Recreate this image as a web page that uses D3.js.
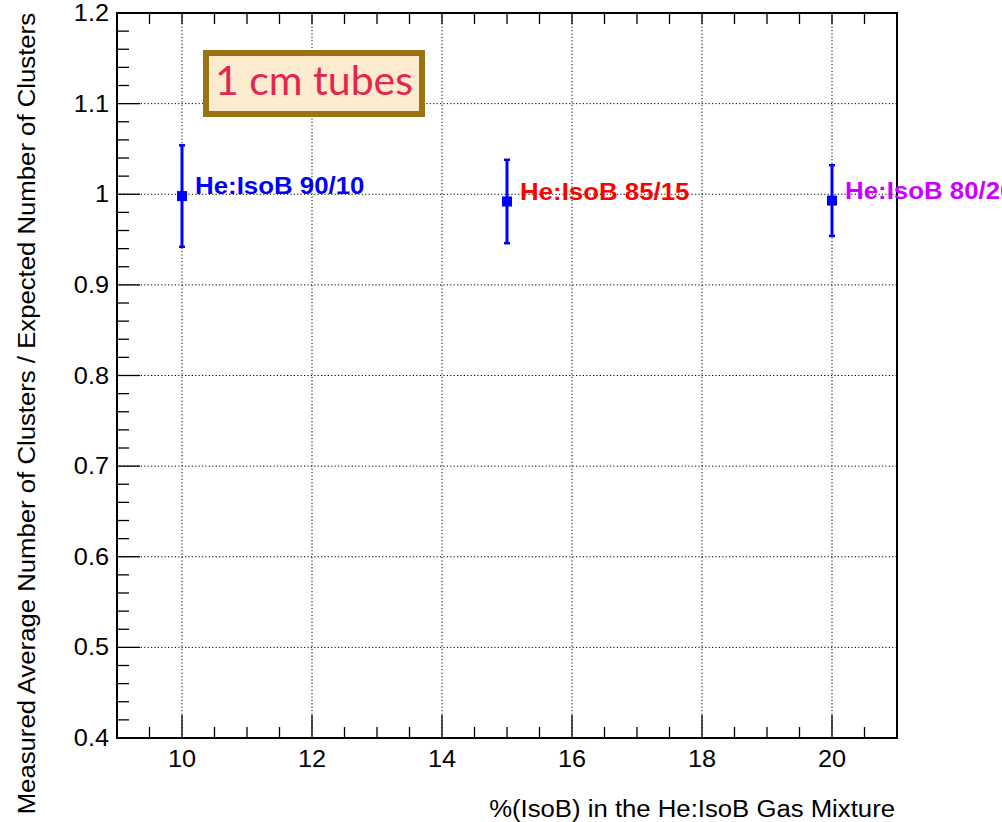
<!DOCTYPE html>
<html>
<head>
<meta charset="utf-8">
<script src="https://cdn.jsdelivr.net/npm/d3@7"></script>
<style>
  body { margin: 0; overflow: hidden; background: #fff; }
  text { font-family: "Liberation Sans", Arial, Helvetica, sans-serif; }
</style>
</head>
<body>
<div id="chart"></div>
<script>
// gas mixtures: %IsoB, measured/expected ratio and error
var isoB = [10, 15, 20];
var ratio = [0.998, 0.992, 0.993];
var ratioErr = [0.056, 0.046, 0.039];
var labels = ["He:IsoB 90/10", "He:IsoB 85/15", "He:IsoB 80/20"];
var labelColors = ["#0000ff", "#ff0000", "#cc00ff"];
var xTicks = [10, 12, 14, 16, 18, 20];
var yTicks = [0.4, 0.5, 0.6, 0.7, 0.8, 0.9, 1, 1.1, 1.2];

var width = 1002, height = 822;
var margin = {top: 13, right: 105, bottom: 84, left: 117};
var w = width - margin.left - margin.right,
    h = height - margin.top - margin.bottom;
var stretch = 1.1; // ROOT text looks a bit wider than Liberation Sans

var svg = d3.select("#chart").append("svg")
  .attr("width", width)
  .attr("height", height);
var g = svg.append("g")
  .attr("transform", "translate(" + margin.left + "," + margin.top + ")");

var x = d3.scaleLinear().domain([9, 21]).range([0, w]);
var y = d3.scaleLinear().domain([0.4, 1.2]).range([h, 0]);

function at(px, py, s) {
  return "translate(" + px + "," + py + ") scale(" + (s || stretch) + ",1)";
}

// grid
g.selectAll(".gx").data(xTicks).enter().append("line")
  .attr("x1", function(d) { return x(d); })
  .attr("x2", function(d) { return x(d); })
  .attr("y1", 0).attr("y2", h)
  .attr("stroke", "#000").attr("stroke-width", 1)
  .attr("stroke-dasharray", "1.2,2.2");
g.selectAll(".gy").data(yTicks.slice(1, -1)).enter().append("line")
  .attr("y1", function(d) { return y(d); })
  .attr("y2", function(d) { return y(d); })
  .attr("x1", 0).attr("x2", w)
  .attr("stroke", "#000").attr("stroke-width", 1)
  .attr("stroke-dasharray", "1.2,2.2");

// ticks, ROOT style (inside)
var xMinor = d3.range(9.5, 21, 0.5);
var yMinor = d3.range(0.42, 1.2, 0.02);
g.selectAll(".tb").data(xMinor).enter().append("line")
  .attr("x1", function(d) { return x(d); })
  .attr("x2", function(d) { return x(d); })
  .attr("y1", h)
  .attr("y2", function(d) { return h - (Math.abs(d % 2) < 1e-6 ? 23 : 11); })
  .attr("stroke", "#000").attr("stroke-width", 1.3);
g.selectAll(".tt").data(xMinor).enter().append("line")
  .attr("x1", function(d) { return x(d); })
  .attr("x2", function(d) { return x(d); })
  .attr("y1", 0).attr("y2", 11)
  .attr("stroke", "#000").attr("stroke-width", 1.3);
g.selectAll(".tl").data(yMinor).enter().append("line")
  .attr("y1", function(d) { return y(d); })
  .attr("y2", function(d) { return y(d); })
  .attr("x1", 0)
  .attr("x2", function(d) { return Math.abs(Math.round(d * 10) - d * 10) < 1e-6 ? 23 : 12; })
  .attr("stroke", "#000").attr("stroke-width", 1.3);

// frame
g.append("rect")
  .attr("width", w).attr("height", h)
  .attr("fill", "none").attr("stroke", "#000").attr("stroke-width", 2);

// tick labels
g.selectAll(".xl").data(xTicks).enter().append("text")
  .attr("transform", function(d) { return at(x(d), h + 29); })
  .attr("text-anchor", "middle")
  .style("font-size", "23px")
  .text(function(d) { return d; });
g.selectAll(".yl").data(yTicks).enter().append("text")
  .attr("transform", function(d) { return at(-8, y(d) + 8); })
  .attr("text-anchor", "end")
  .style("font-size", "23px")
  .text(function(d) { return d3.format("")(d); });

// axis titles
svg.append("text")
  .attr("transform", at(895, 817, 1.05))
  .attr("text-anchor", "end")
  .style("font-size", "24.5px")
  .text("%(IsoB) in the He:IsoB Gas Mixture");
svg.append("text")
  .attr("transform", "translate(35,13) rotate(-90) scale(1.05,1)")
  .attr("text-anchor", "end")
  .style("font-size", "24.5px")
  .text("Measured Average Number of Clusters / Expected Number of Clusters");

// error bars + markers
var pts = isoB.map(function(v, i) { return {x: v, y: ratio[i], e: ratioErr[i], label: labels[i], c: labelColors[i]}; });
g.selectAll(".err").data(pts).enter().append("line")
  .attr("x1", function(d) { return x(d.x); })
  .attr("x2", function(d) { return x(d.x); })
  .attr("y1", function(d) { return y(d.y - d.e); })
  .attr("y2", function(d) { return y(d.y + d.e); })
  .attr("stroke", "#0000ff").attr("stroke-width", 3);
g.selectAll(".capT").data(pts).enter().append("line")
  .attr("x1", function(d) { return x(d.x) - 3; })
  .attr("x2", function(d) { return x(d.x) + 3; })
  .attr("y1", function(d) { return y(d.y + d.e); })
  .attr("y2", function(d) { return y(d.y + d.e); })
  .attr("stroke", "#0000ff").attr("stroke-width", 2.5);
g.selectAll(".capB").data(pts).enter().append("line")
  .attr("x1", function(d) { return x(d.x) - 3; })
  .attr("x2", function(d) { return x(d.x) + 3; })
  .attr("y1", function(d) { return y(d.y - d.e); })
  .attr("y2", function(d) { return y(d.y - d.e); })
  .attr("stroke", "#0000ff").attr("stroke-width", 2.5);
g.selectAll(".mk").data(pts).enter().append("rect")
  .attr("x", function(d) { return x(d.x) - 5; })
  .attr("y", function(d) { return y(d.y) - 5; })
  .attr("width", 10).attr("height", 10)
  .attr("fill", "#0000ff");

// mixture labels
g.selectAll(".lab").data(pts).enter().append("text")
  .attr("transform", function(d) { return at(x(d.x) + 13, y(d.y) - 2); })
  .attr("fill", function(d) { return d.c; })
  .style("font-size", "23.5px")
  .style("font-weight", "bold")
  .text(function(d) { return d.label; });

// "1 cm tubes" box
svg.append("rect")
  .attr("x", 206).attr("y", 53)
  .attr("width", 216).attr("height", 61)
  .attr("fill", "#fdebd0")
  .attr("stroke", "#9b7312").attr("stroke-width", 6);
svg.append("text")
  .attr("x", 314).attr("y", 95)
  .attr("text-anchor", "middle")
  .attr("fill", "#e3264d")
  .style("font-family", "Lato, 'Open Sans', sans-serif")
  .style("font-size", "41px")
  .text("1 cm tubes");
</script>
</body>
</html>
